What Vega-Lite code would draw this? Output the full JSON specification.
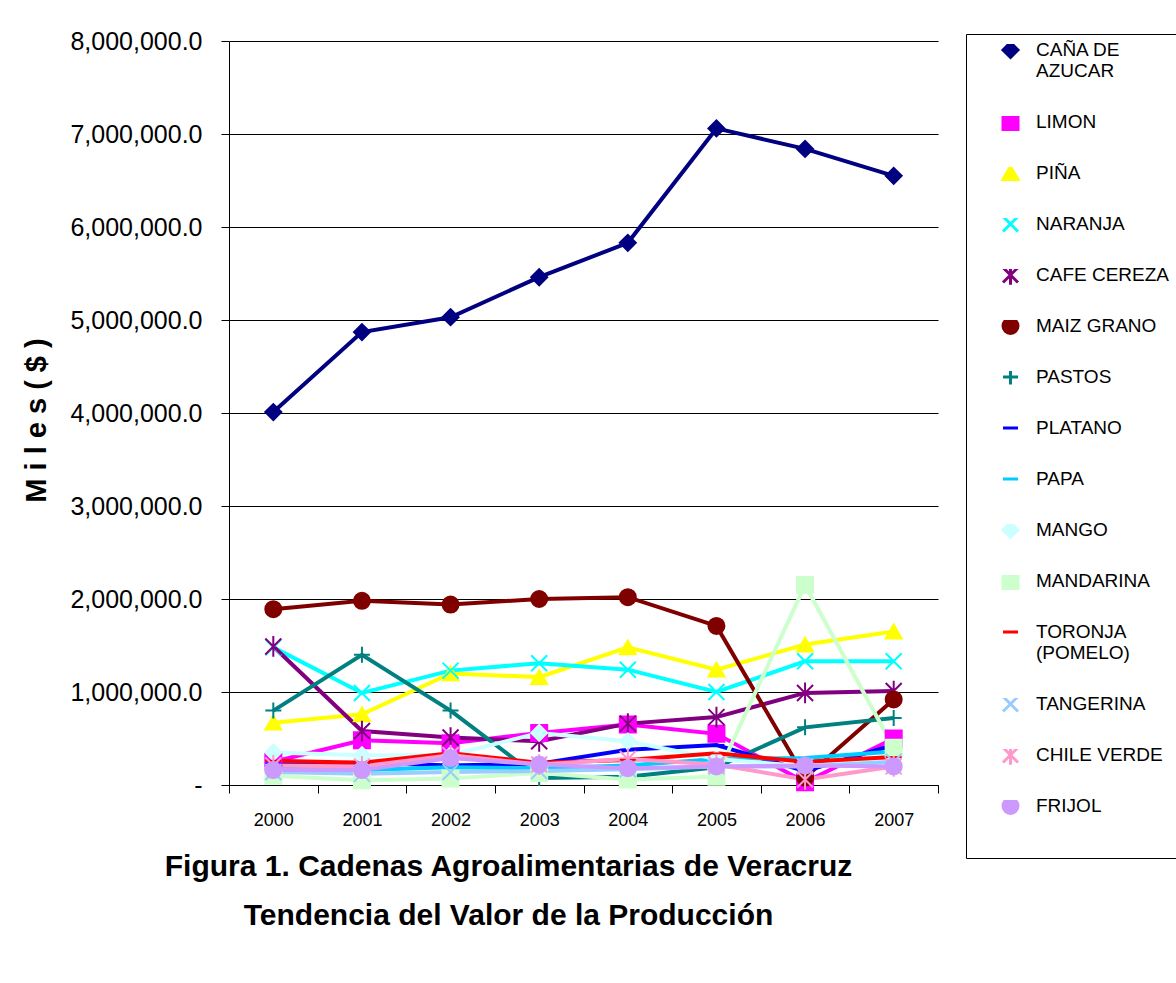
{
  "$schema": "https://vega.github.io/schema/vega-lite/v6.json",
  "width": 709,
  "height": 744,
  "autosize": {"type": "none"},
  "padding": {"left": 229, "top": 41, "right": 238, "bottom": 198},
  "background": "white",
  "config": {"view": {"stroke": null}, "font": "Liberation Sans"},
  "title": {
    "text": ["Figura 1. Cadenas Agroalimentarias de Veracruz", "Tendencia del Valor de la Producción"],
    "orient": "bottom", "anchor": "middle", "frame": "group",
    "font": "Liberation Sans", "fontSize": 30, "fontWeight": "bold", "color": "black",
    "lineHeight": 49, "dx": -75, "offset": -7
  },
  "data": {"values": [
    {"cultivo": "CAÑA DE AZUCAR", "anio": "2000", "valor": 4010000},
    {"cultivo": "CAÑA DE AZUCAR", "anio": "2001", "valor": 4870000},
    {"cultivo": "CAÑA DE AZUCAR", "anio": "2002", "valor": 5030000},
    {"cultivo": "CAÑA DE AZUCAR", "anio": "2003", "valor": 5460000},
    {"cultivo": "CAÑA DE AZUCAR", "anio": "2004", "valor": 5830000},
    {"cultivo": "CAÑA DE AZUCAR", "anio": "2005", "valor": 7060000},
    {"cultivo": "CAÑA DE AZUCAR", "anio": "2006", "valor": 6840000},
    {"cultivo": "CAÑA DE AZUCAR", "anio": "2007", "valor": 6550000},
    {"cultivo": "LIMON", "anio": "2000", "valor": 250000},
    {"cultivo": "LIMON", "anio": "2001", "valor": 480000},
    {"cultivo": "LIMON", "anio": "2002", "valor": 450000},
    {"cultivo": "LIMON", "anio": "2003", "valor": 560000},
    {"cultivo": "LIMON", "anio": "2004", "valor": 650000},
    {"cultivo": "LIMON", "anio": "2005", "valor": 550000},
    {"cultivo": "LIMON", "anio": "2006", "valor": 30000},
    {"cultivo": "LIMON", "anio": "2007", "valor": 500000},
    {"cultivo": "PIÑA", "anio": "2000", "valor": 670000},
    {"cultivo": "PIÑA", "anio": "2001", "valor": 760000},
    {"cultivo": "PIÑA", "anio": "2002", "valor": 1200000},
    {"cultivo": "PIÑA", "anio": "2003", "valor": 1160000},
    {"cultivo": "PIÑA", "anio": "2004", "valor": 1480000},
    {"cultivo": "PIÑA", "anio": "2005", "valor": 1240000},
    {"cultivo": "PIÑA", "anio": "2006", "valor": 1510000},
    {"cultivo": "PIÑA", "anio": "2007", "valor": 1650000},
    {"cultivo": "NARANJA", "anio": "2000", "valor": 1480000},
    {"cultivo": "NARANJA", "anio": "2001", "valor": 990000},
    {"cultivo": "NARANJA", "anio": "2002", "valor": 1230000},
    {"cultivo": "NARANJA", "anio": "2003", "valor": 1310000},
    {"cultivo": "NARANJA", "anio": "2004", "valor": 1240000},
    {"cultivo": "NARANJA", "anio": "2005", "valor": 1000000},
    {"cultivo": "NARANJA", "anio": "2006", "valor": 1330000},
    {"cultivo": "NARANJA", "anio": "2007", "valor": 1330000},
    {"cultivo": "CAFE CEREZA", "anio": "2000", "valor": 1490000},
    {"cultivo": "CAFE CEREZA", "anio": "2001", "valor": 580000},
    {"cultivo": "CAFE CEREZA", "anio": "2002", "valor": 510000},
    {"cultivo": "CAFE CEREZA", "anio": "2003", "valor": 470000},
    {"cultivo": "CAFE CEREZA", "anio": "2004", "valor": 660000},
    {"cultivo": "CAFE CEREZA", "anio": "2005", "valor": 730000},
    {"cultivo": "CAFE CEREZA", "anio": "2006", "valor": 990000},
    {"cultivo": "CAFE CEREZA", "anio": "2007", "valor": 1010000},
    {"cultivo": "MAIZ GRANO", "anio": "2000", "valor": 1890000},
    {"cultivo": "MAIZ GRANO", "anio": "2001", "valor": 1980000},
    {"cultivo": "MAIZ GRANO", "anio": "2002", "valor": 1940000},
    {"cultivo": "MAIZ GRANO", "anio": "2003", "valor": 2000000},
    {"cultivo": "MAIZ GRANO", "anio": "2004", "valor": 2020000},
    {"cultivo": "MAIZ GRANO", "anio": "2005", "valor": 1710000},
    {"cultivo": "MAIZ GRANO", "anio": "2006", "valor": 80000},
    {"cultivo": "MAIZ GRANO", "anio": "2007", "valor": 920000},
    {"cultivo": "PASTOS", "anio": "2000", "valor": 800000},
    {"cultivo": "PASTOS", "anio": "2001", "valor": 1400000},
    {"cultivo": "PASTOS", "anio": "2002", "valor": 800000},
    {"cultivo": "PASTOS", "anio": "2003", "valor": 75000},
    {"cultivo": "PASTOS", "anio": "2004", "valor": 90000},
    {"cultivo": "PASTOS", "anio": "2005", "valor": 190000},
    {"cultivo": "PASTOS", "anio": "2006", "valor": 620000},
    {"cultivo": "PASTOS", "anio": "2007", "valor": 720000},
    {"cultivo": "PLATANO", "anio": "2000", "valor": 230000},
    {"cultivo": "PLATANO", "anio": "2001", "valor": 240000},
    {"cultivo": "PLATANO", "anio": "2002", "valor": 210000},
    {"cultivo": "PLATANO", "anio": "2003", "valor": 230000},
    {"cultivo": "PLATANO", "anio": "2004", "valor": 380000},
    {"cultivo": "PLATANO", "anio": "2005", "valor": 430000},
    {"cultivo": "PLATANO", "anio": "2006", "valor": 150000},
    {"cultivo": "PLATANO", "anio": "2007", "valor": 430000},
    {"cultivo": "PAPA", "anio": "2000", "valor": 180000},
    {"cultivo": "PAPA", "anio": "2001", "valor": 160000},
    {"cultivo": "PAPA", "anio": "2002", "valor": 190000},
    {"cultivo": "PAPA", "anio": "2003", "valor": 180000},
    {"cultivo": "PAPA", "anio": "2004", "valor": 210000},
    {"cultivo": "PAPA", "anio": "2005", "valor": 280000},
    {"cultivo": "PAPA", "anio": "2006", "valor": 290000},
    {"cultivo": "PAPA", "anio": "2007", "valor": 360000},
    {"cultivo": "MANGO", "anio": "2000", "valor": 350000},
    {"cultivo": "MANGO", "anio": "2001", "valor": 320000},
    {"cultivo": "MANGO", "anio": "2002", "valor": 320000},
    {"cultivo": "MANGO", "anio": "2003", "valor": 560000},
    {"cultivo": "MANGO", "anio": "2004", "valor": 470000},
    {"cultivo": "MANGO", "anio": "2005", "valor": 280000},
    {"cultivo": "MANGO", "anio": "2006", "valor": 200000},
    {"cultivo": "MANGO", "anio": "2007", "valor": 300000},
    {"cultivo": "MANDARINA", "anio": "2000", "valor": 100000},
    {"cultivo": "MANDARINA", "anio": "2001", "valor": 50000},
    {"cultivo": "MANDARINA", "anio": "2002", "valor": 70000},
    {"cultivo": "MANDARINA", "anio": "2003", "valor": 130000},
    {"cultivo": "MANDARINA", "anio": "2004", "valor": 60000},
    {"cultivo": "MANDARINA", "anio": "2005", "valor": 90000},
    {"cultivo": "MANDARINA", "anio": "2006", "valor": 2150000},
    {"cultivo": "MANDARINA", "anio": "2007", "valor": 400000},
    {"cultivo": "TORONJA (POMELO)", "anio": "2000", "valor": 260000},
    {"cultivo": "TORONJA (POMELO)", "anio": "2001", "valor": 240000},
    {"cultivo": "TORONJA (POMELO)", "anio": "2002", "valor": 340000},
    {"cultivo": "TORONJA (POMELO)", "anio": "2003", "valor": 240000},
    {"cultivo": "TORONJA (POMELO)", "anio": "2004", "valor": 270000},
    {"cultivo": "TORONJA (POMELO)", "anio": "2005", "valor": 340000},
    {"cultivo": "TORONJA (POMELO)", "anio": "2006", "valor": 250000},
    {"cultivo": "TORONJA (POMELO)", "anio": "2007", "valor": 300000},
    {"cultivo": "TANGERINA", "anio": "2000", "valor": 140000},
    {"cultivo": "TANGERINA", "anio": "2001", "valor": 120000},
    {"cultivo": "TANGERINA", "anio": "2002", "valor": 140000},
    {"cultivo": "TANGERINA", "anio": "2003", "valor": 150000},
    {"cultivo": "TANGERINA", "anio": "2004", "valor": 170000},
    {"cultivo": "TANGERINA", "anio": "2005", "valor": 200000},
    {"cultivo": "TANGERINA", "anio": "2006", "valor": 200000},
    {"cultivo": "TANGERINA", "anio": "2007", "valor": 250000},
    {"cultivo": "CHILE VERDE", "anio": "2000", "valor": 210000},
    {"cultivo": "CHILE VERDE", "anio": "2001", "valor": 200000},
    {"cultivo": "CHILE VERDE", "anio": "2002", "valor": 320000},
    {"cultivo": "CHILE VERDE", "anio": "2003", "valor": 220000},
    {"cultivo": "CHILE VERDE", "anio": "2004", "valor": 280000},
    {"cultivo": "CHILE VERDE", "anio": "2005", "valor": 220000},
    {"cultivo": "CHILE VERDE", "anio": "2006", "valor": 60000},
    {"cultivo": "CHILE VERDE", "anio": "2007", "valor": 200000},
    {"cultivo": "FRIJOL", "anio": "2000", "valor": 160000},
    {"cultivo": "FRIJOL", "anio": "2001", "valor": 160000},
    {"cultivo": "FRIJOL", "anio": "2002", "valor": 290000},
    {"cultivo": "FRIJOL", "anio": "2003", "valor": 220000},
    {"cultivo": "FRIJOL", "anio": "2004", "valor": 180000},
    {"cultivo": "FRIJOL", "anio": "2005", "valor": 200000},
    {"cultivo": "FRIJOL", "anio": "2006", "valor": 210000},
    {"cultivo": "FRIJOL", "anio": "2007", "valor": 200000}
  ]},
  "encoding": {
    "x": {
      "field": "anio", "type": "ordinal", "bandPosition": 0.5,
      "scale": {"type": "band", "paddingInner": 0, "paddingOuter": 0},
      "axis": {
        "title": null, "labelAngle": 0, "tickBand": "extent", "tickSize": 8,
        "tickColor": "black", "domainColor": "black", "labelColor": "black",
        "labelFont": "Liberation Sans", "labelFontSize": 18, "labelPadding": 18, "grid": false
      }
    },
    "y": {
      "field": "valor", "type": "quantitative",
      "scale": {"domain": [0, 8000000], "nice": false},
      "axis": {
        "title": "M i l e s ( $ )",
        "values": [0, 1000000, 2000000, 3000000, 4000000, 5000000, 6000000, 7000000, 8000000],
        "labelExpr": "datum.value == 0 ? '-' : format(datum.value, ',.1f')",
        "labelPadding": 19,
        "grid": true, "gridColor": "black", "gridOpacity": 1, "gridWidth": 1,
        "tickSize": 8, "tickColor": "black", "domainColor": "black",
        "labelFontSize": 25, "labelColor": "black", "labelFont": "Liberation Sans",
        "titleFontSize": 29, "titleFontWeight": "bold", "titleColor": "black", "titleFont": "Liberation Sans",
        "titleAngle": 270, "titleX": -184, "titleY": 379, "titleAlign": "center", "titleBaseline": "alphabetic"
      }
    }
  },
  "layer": [
    {
      "mark": {"type": "line", "strokeWidth": 4},
      "encoding": {
        "color": {
          "field": "cultivo", "type": "nominal",
          "scale": {
            "domain": ["CAÑA DE AZUCAR", "LIMON", "PIÑA", "NARANJA", "CAFE CEREZA", "MAIZ GRANO", "PASTOS", "PLATANO", "PAPA", "MANGO", "MANDARINA", "TORONJA (POMELO)", "TANGERINA", "CHILE VERDE", "FRIJOL"],
            "range": ["#000080", "#FF00FF", "#FFFF00", "#00FFFF", "#800080", "#800000", "#008080", "#0000FF", "#00CCFF", "#CCFFFF", "#CCFFCC", "#FF0000", "#99CCFF", "#FF99CC", "#CC99FF"]
          }
        }
      }
    },
    {
      "mark": {"type": "point", "filled": true, "size": 256, "strokeWidth": 2, "opacity": 1},
      "encoding": {
        "color": {
          "field": "cultivo", "type": "nominal",
          "scale": {
            "domain": ["CAÑA DE AZUCAR", "LIMON", "PIÑA", "NARANJA", "CAFE CEREZA", "MAIZ GRANO", "PASTOS", "PLATANO", "PAPA", "MANGO", "MANDARINA", "TORONJA (POMELO)", "TANGERINA", "CHILE VERDE", "FRIJOL"],
            "range": ["#000080", "#FF00FF", "#FFFF00", "#00FFFF", "#800080", "#800000", "#008080", "#0000FF", "#00CCFF", "#CCFFFF", "#CCFFCC", "#FF0000", "#99CCFF", "#FF99CC", "#CC99FF"]
          },
          "legend": {
            "orient": "none", "legendX": 737, "legendY": -7,
            "title": "\u00a0", "titleOrient": "bottom", "titleFontSize": 10, "titlePadding": 22,
            "strokeColor": "black", "padding": 10, "fillColor": "white",
            "symbolSize": 225, "symbolStrokeWidth": 3, "symbolOffset": 25,
            "labelOffset": 16, "labelFont": "Liberation Sans", "labelFontSize": 19, "labelColor": "black", "labelLimit": 400,
            "labelExpr": "datum.value == 'CAÑA DE AZUCAR' ? ['CAÑA DE', 'AZUCAR'] : datum.value == 'TORONJA (POMELO)' ? ['TORONJA', '(POMELO)'] : datum.label",
            "clipHeight": 12, "rowPadding": 32,
            "encode": {
              "symbols": {
                "shape": {"value": {"expr": "['M-3,0L3,0M0,-1L1,0L0,1L-1,0Z','M-3,0L3,0M-0.8,-0.8L0.8,-0.8L0.8,0.8L-0.8,0.8Z','M-3,0L3,0M0,-1.1L1,0.8L-1,0.8Z','M-3,0L3,0M-1,-1L1,1M-1,1L1,-1','M-3,0L3,0M-0.9,-0.9L0.9,0.9M-0.9,0.9L0.9,-0.9M0,-1.2L0,1.2','M-3,0L3,0M0.9,0A0.9,0.9,0,1,1,-0.9,0A0.9,0.9,0,1,1,0.9,0Z','M-3,0L3,0M0,-1.1L0,1.1','M-3,0L3,0M-0.5,-0.2L0.5,-0.2L0.5,0.2L-0.5,0.2Z','M-3,0L3,0M-0.5,-0.2L0.5,-0.2L0.5,0.2L-0.5,0.2Z','M-3,0L3,0M0,-1L1,0L0,1L-1,0Z','M-3,0L3,0M-0.8,-0.8L0.8,-0.8L0.8,0.8L-0.8,0.8Z','M-3,0L3,0','M-3,0L3,0M-1,-1L1,1M-1,1L1,-1','M-3,0L3,0M-0.9,-0.9L0.9,0.9M-0.9,0.9L0.9,-0.9M0,-1.2L0,1.2','M-3,0L3,0M0.9,0A0.9,0.9,0,1,1,-0.9,0A0.9,0.9,0,1,1,0.9,0Z'][indexof(['CAÑA DE AZUCAR','LIMON','PIÑA','NARANJA','CAFE CEREZA','MAIZ GRANO','PASTOS','PLATANO','PAPA','MANGO','MANDARINA','TORONJA (POMELO)','TANGERINA','CHILE VERDE','FRIJOL'], datum.value)]"}},
                "stroke": {"value": {"expr": "scale('color', datum.value)"}},
                "fill": {"value": {"expr": "scale('color', datum.value)"}},
                "strokeWidth": {"value": 3},
                "opacity": {"value": 1}
              },
              "labels": {
                "dy": {"value": {"expr": "(datum.value == 'CAÑA DE AZUCAR' || datum.value == 'TORONJA (POMELO)') ? 14 : 0"}},
                "lineHeight": {"value": 28}
              }
            }
          }
        },
        "shape": {
          "field": "cultivo", "type": "nominal",
          "scale": {
            "domain": ["CAÑA DE AZUCAR", "LIMON", "PIÑA", "NARANJA", "CAFE CEREZA", "MAIZ GRANO", "PASTOS", "PLATANO", "PAPA", "MANGO", "MANDARINA", "TORONJA (POMELO)", "TANGERINA", "CHILE VERDE", "FRIJOL"],
            "range": ["diamond", "square", "triangle-up", "M-1,-1L1,1M-1,1L1,-1", "M-1,-1L1,1M-1,1L1,-1M0,-1.3L0,1.3", "circle", "M-1,0L1,0M0,-1L0,1", "stroke", "stroke", "diamond", "square", "stroke", "M-1,-1L1,1M-1,1L1,-1", "M-1,-1L1,1M-1,1L1,-1M0,-1.3L0,1.3", "circle"]
          },
          "legend": null
        },
        "stroke": {
          "field": "cultivo", "type": "nominal",
          "scale": {
            "domain": ["CAÑA DE AZUCAR", "LIMON", "PIÑA", "NARANJA", "CAFE CEREZA", "MAIZ GRANO", "PASTOS", "PLATANO", "PAPA", "MANGO", "MANDARINA", "TORONJA (POMELO)", "TANGERINA", "CHILE VERDE", "FRIJOL"],
            "range": ["#000080", "#FF00FF", "#FFFF00", "#00FFFF", "#800080", "#800000", "#008080", "#0000FF", "#00CCFF", "#CCFFFF", "#CCFFCC", "#FF0000", "#99CCFF", "#FF99CC", "#CC99FF"]
          },
          "legend": null
        }
      }
    }
  ]
}
